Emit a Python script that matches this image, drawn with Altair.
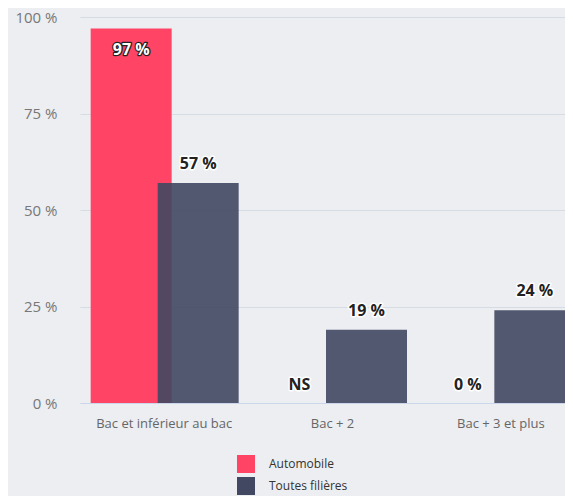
import altair as alt
import pandas as pd

categories = ["Bac et inférieur au bac", "Bac + 2", "Bac + 3 et plus"]
series = ["Automobile", "Toutes filières"]
auto_values = [97, 0, 0]
auto_labels = ["97 %", "NS", "0 %"]
all_values = [57, 19, 24]
all_labels = ["57 %", "19 %", "24 %"]
colors = ["#ff4466", "#424862"]

auto_df = pd.DataFrame({"cat": categories, "value": auto_values, "label": auto_labels, "serie": series[0]})
all_df = pd.DataFrame({"cat": categories, "value": all_values, "label": all_labels, "serie": series[1]})

FONT = "Open Sans"
BW = 81
OFF_A = -33
OFF_B = 34
LFS = 16

x = alt.X("cat:N", sort=categories, title=None,
          scale=alt.Scale(range=[0, 505], paddingInner=0, paddingOuter=0),
          axis=alt.Axis(labelAngle=0, labelFontSize=13, labelColor="#666666", labelFont=FONT,
                        labelPadding=14, ticks=False, domain=True, domainColor="#ccd6eb",
                        domainWidth=1, grid=False))
y = alt.Y("value:Q", title=None,
          scale=alt.Scale(domain=[0, 100], nice=False),
          axis=alt.Axis(values=[0, 25, 50, 75, 100], labelExpr="datum.value + ' %'",
                        labelFontSize=15, labelColor="#777777", labelFont=FONT,
                        labelPadding=23, ticks=False, domain=False,
                        gridColor="#d6dce3", gridWidth=1))
color = alt.Color("serie:N", title=None,
                  scale=alt.Scale(domain=series, range=colors),
                  legend=alt.Legend(orient="none", legendX=157, legendY=438, direction="vertical",
                                    symbolType="square", symbolSize=324, symbolStrokeWidth=0,
                                    symbolOpacity=1,
                                    labelFontSize=12, labelFont=FONT, labelColor="#333333",
                                    labelOffset=14, rowPadding=4, padding=0))

bars_a = alt.Chart(auto_df).mark_bar(width=BW, xOffset=OFF_A, clip=True).encode(x=x, y=y, color=color)
bars_b = alt.Chart(all_df).mark_bar(width=BW, xOffset=OFF_B, clip=True, opacity=0.91).encode(x=x, y=y, color=color)

xs = alt.X("cat:N", sort=categories)

lab_a_halo = alt.Chart(auto_df.iloc[:1]).mark_text(
    xOffset=OFF_A, dy=21, font=FONT, fontSize=LFS, fontWeight="bold",
    stroke="#222222", strokeWidth=2.5, fill="#222222", strokeJoin="round"
).encode(x=xs, y="value:Q", text="label:N")
lab_a = alt.Chart(auto_df.iloc[:1]).mark_text(
    xOffset=OFF_A, dy=21, font=FONT, fontSize=LFS, fontWeight="bold", fill="#ffffff"
).encode(x=xs, y="value:Q", text="label:N")

lab_a0_halo = alt.Chart(auto_df.iloc[1:]).mark_text(
    xOffset=OFF_A, dy=-18, font=FONT, fontSize=LFS, fontWeight="bold",
    stroke="#ffffff", strokeWidth=3, fill="#ffffff", strokeJoin="round"
).encode(x=xs, y="value:Q", text="label:N")
lab_a0 = alt.Chart(auto_df.iloc[1:]).mark_text(
    xOffset=OFF_A, dy=-18, font=FONT, fontSize=LFS, fontWeight="bold", fill="#222222"
).encode(x=xs, y="value:Q", text="label:N")

lab_b_halo = alt.Chart(all_df).mark_text(
    xOffset=OFF_B, dy=-19, font=FONT, fontSize=LFS, fontWeight="bold",
    stroke="#ffffff", strokeWidth=3, fill="#ffffff", strokeJoin="round", clip=True
).encode(x=xs, y="value:Q", text="label:N")
lab_b = alt.Chart(all_df).mark_text(
    xOffset=OFF_B, dy=-19, font=FONT, fontSize=LFS, fontWeight="bold", fill="#222222", clip=True
).encode(x=xs, y="value:Q", text="label:N")

chart = alt.layer(
    bars_a, bars_b, lab_a_halo, lab_a, lab_a0_halo, lab_a0, lab_b_halo, lab_b
).properties(
    width=485, height=386,
    background="#eceef1",
    padding={"left": 72, "top": 9, "right": 0, "bottom": 93},
    autosize=alt.AutoSizeParams(type="none"),
).configure_view(stroke=None).configure_axis(labelFont=FONT)

chart.save("out.html", embed_options={"renderer": "svg", "actions": False})
